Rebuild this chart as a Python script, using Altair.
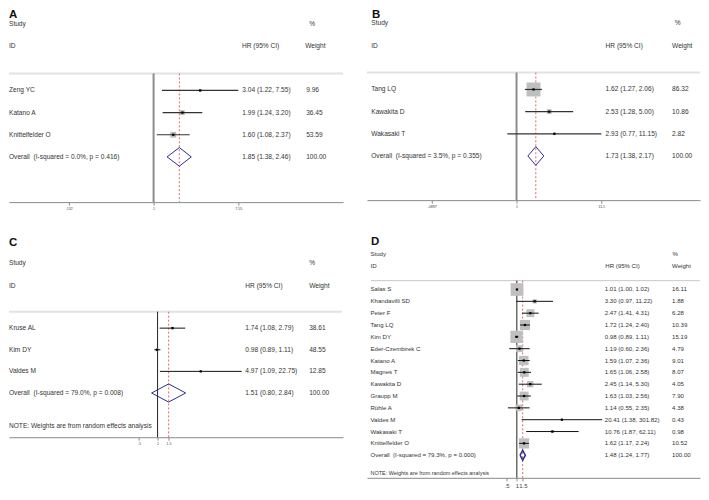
import math
import altair as alt
import pandas as pd

# ---------------- data ----------------
A_STUDY = ["Zeng YC", "Katano A", "Knittelfelder O"]
A_HR = [3.04, 1.99, 1.60]
A_LO = [1.22, 1.24, 1.08]
A_HI = [7.55, 3.20, 2.37]
A_WT = [9.96, 36.45, 53.59]
A_OVR = [1.85, 1.38, 2.46]
A_OVR_LABEL = "Overall\u00a0\u00a0(I-squared = 0.0%, p = 0.416)"
A_TICKS = [0.132, 1, 7.55]
A_TICK_LABELS = [".132", "1", "7.55"]

B_STUDY = ["Tang LQ", "Kawakita D", "Wakasaki T"]
B_HR = [1.62, 2.53, 2.93]
B_LO = [1.27, 1.28, 0.77]
B_HI = [2.06, 5.00, 11.15]
B_WT = [86.32, 10.86, 2.82]
B_OVR = [1.73, 1.38, 2.17]
B_OVR_LABEL = "Overall\u00a0\u00a0(I-squared = 3.5%, p = 0.355)"
B_TICKS = [0.0897, 1, 11.1]
B_TICK_LABELS = [".0897", "1", "11.1"]

C_STUDY = ["Kruse AL", "Kim DY", "Valdes M"]
C_HR = [1.74, 0.98, 4.97]
C_LO = [1.08, 0.89, 1.09]
C_HI = [2.79, 1.11, 22.75]
C_WT = [38.61, 48.55, 12.85]
C_OVR = [1.51, 0.80, 2.84]
C_OVR_LABEL = "Overall\u00a0\u00a0(I-squared = 79.0%, p = 0.008)"
C_TICKS = [0.5, 1, 1.5]
C_TICK_LABELS = [".5", "1", "1.5"]

D_STUDY = ["Salas S", "Khandavilli SD", "Peter F", "Tang LQ", "Kim DY",
           "Eder-Czembirek C", "Katano A", "Magnes T", "Kawakita D", "Graupp M",
           "Rühle A", "Valdes M", "Wakasaki T", "Knittelfelder O"]
D_HR = [1.01, 3.30, 2.47, 1.72, 0.98, 1.19, 1.59, 1.65, 2.45, 1.63, 1.14, 20.41, 10.76, 1.62]
D_LO = [1.00, 0.97, 1.41, 1.24, 0.89, 0.60, 1.07, 1.06, 1.14, 1.03, 0.55, 1.38, 1.87, 1.17]
D_HI = [1.02, 11.22, 4.31, 2.40, 1.11, 2.36, 2.36, 2.58, 5.30, 2.56, 2.35, 301.82, 62.11, 2.24]
D_WT = [16.11, 1.88, 6.28, 10.39, 15.19, 4.79, 9.01, 8.07, 4.05, 7.90, 4.38, 0.43, 0.98, 10.52]
D_OVR = [1.48, 1.24, 1.77]
D_OVR_LABEL = "Overall\u00a0\u00a0(I-squared = 79.3%, p = 0.000)"
D_TICKS = [0.5, 1, 1.5]
D_TICK_LABELS = [".5", "1", "1.5"]

NOTE = "NOTE: Weights are from random effects analysis"
TOTAL_WEIGHT = "100.00"

# ---------------- layout (reference pixels -> page pixels) ----------------
FONT = "Liberation Sans"
TXT = "#333333"
S2 = 0.9857  # slight vertical squeeze of the lower half so it fits the page
ROW1_SHIFT = 3.0


def PX(r):
    return r


def PY(r):
    return r + ROW1_SHIFT if r <= 215 else 215 + (r - 215) * S2


COL_LEFT = [8.0, 367.0]
ROW_TOP = [8.0, PY(236)]
COL_W = [343.0 - 8.0, 701.0 - 367.0]

LAYOUT = {
    "A": dict(col=0, row=0, letter_x=5, letter_top=None, axis_y=199, top_y=70, top_x=(0, 343),
              null_x=153, k=42, row1_y=87, rowN_y=153.6, study_y=20, id_y=42.3,
              name_x=4, est_x=242, wt_x=306, pct_x=309, weight_x=305, hr_x=241.7,
              fs=6.6, tick_fs=3.6, sq_k=0.65, null_color="#8c8c8c", null_w=2,
              top_color="#e2e2e2", top_w=2, ci_color="#333333", ci_w=1.2, dia_w=1, note_y=None),
    "B": dict(col=1, row=0, letter_x=372, letter_top=None, axis_y=197, top_y=69, top_x=(367, 720),
              null_x=517, k=35.3, row1_y=86, rowN_y=152.7, study_y=19.7, id_y=42,
              name_x=371.3, est_x=606.3, wt_x=673, pct_x=675.7, weight_x=673, hr_x=606.3,
              fs=6.6, tick_fs=3.6, sq_k=2.27, null_color="#8c8c8c", null_w=2,
              top_color="#e2e2e2", top_w=2, ci_color="#333333", ci_w=1.2, dia_w=1, note_y=None),
    "C": dict(col=0, row=1, letter_x=5, letter_top=239, axis_y=441, top_y=313.3, top_x=(0, 342),
              null_x=157, k=27, row1_y=330, rowN_y=396, study_y=264, id_y=286.7,
              name_x=4, est_x=245, wt_x=309, pct_x=309, weight_x=309, hr_x=245,
              fs=6.6, tick_fs=3.6, sq_k=0.18, null_color="#222222", null_w=1,
              top_color="#e2e2e2", top_w=2, ci_color="#111111", ci_w=1, dia_w=1,
              note_y=430, note_fs=6.6),
    "D": dict(col=1, row=1, letter_x=371, letter_top=237.5, axis_y=482.3, top_y=281.7, top_x=(371, 720),
              null_x=517.3, k=15, row1_y=290.7, rowN_y=459.3, study_y=255, id_y=266.7,
              name_x=370.5, est_x=605.5, wt_x=673, pct_x=673.3, weight_x=673, hr_x=606,
              fs=6.1, tick_fs=6, sq_k=10, null_color="#222222", null_w=1,
              top_color="#c8c8c8", top_w=1, ci_color="#111111", ci_w=1, dia_w=1.5,
              note_y=477.3, note_fs=5.5),
}


def panel(key, study, hr, lo, hi, wt, ovr, ovr_label, ticks, tick_labels):
    L = LAYOUT[key]
    left = COL_LEFT[L["col"]]
    top = ROW_TOP[L["row"]]
    w = COL_W[L["col"]]
    h = PY(L["axis_y"]) - top

    def lx(r):
        return min(w, max(0.0, PX(r) - left))

    def ly(r):
        return PY(r) - top

    kk = L["k"]
    n0 = PX(L["null_x"]) - left
    xs = alt.Scale(type="log", domain=[math.exp(-n0 / kk), math.exp((w - n0) / kk)], nice=False)
    n = len(study)
    ys = alt.Scale(domain=[1, n + 1], range=[ly(L["row1_y"]), ly(L["rowN_y"])], nice=False, zero=False)
    expr = "".join(f"abs(datum.value - {v}) < 1e-6 ? '{t}' : " for v, t in zip(ticks, tick_labels)) + "''"
    ax = alt.Axis(values=ticks, labelExpr=expr, title="", grid=False, domainColor="#8a8a8a",
                  domainWidth=1, tickColor="#8a8a8a", tickWidth=1, tickSize=3,
                  labelFontSize=L["tick_fs"], labelFont=FONT, labelColor="#444444",
                  labelPadding=1.5, labelOverlap=False, labelFlush=False)

    def X(f):
        return alt.X(f, type="quantitative", scale=xs, axis=ax)

    Y = alt.Y("row:Q", scale=ys, axis=None)

    rows = pd.DataFrame({"row": list(range(1, n + 1)), "study": study, "hr": hr,
                         "lo": lo, "hi": hi, "wt": wt})
    rows["est"] = [f"{a:.2f} ({b:.2f}, {c:.2f})" for a, b, c in zip(hr, lo, hi)]
    rows["wtxt"] = [f"{x:.2f}" for x in wt]
    ovr_df = pd.DataFrame({"row": [n + 1], "study": [ovr_label],
                           "est": [f"{ovr[0]:.2f} ({ovr[1]:.2f}, {ovr[2]:.2f})"],
                           "wtxt": [TOTAL_WEIGHT]})
    labels = pd.concat([rows[["row", "study", "est", "wtxt"]], ovr_df], ignore_index=True)
    dh = 0.42
    diamond = pd.DataFrame({"x": [ovr[1], ovr[0], ovr[2], ovr[0], ovr[1]],
                            "row": [n + 1, n + 1 - dh, n + 1, n + 1 + dh, n + 1],
                            "o": [0, 1, 2, 3, 4]})
    one = pd.DataFrame({"v": [0]})
    top_px = ly(L["top_y"])

    layers = []
    layers.append(alt.Chart(one).mark_rule(color=L["top_color"], strokeWidth=L["top_w"]).encode(
        x=alt.value(lx(L["top_x"][0])), x2=alt.value(lx(L["top_x"][1])), y=alt.value(top_px)))
    layers.append(alt.Chart(pd.DataFrame({"v": [1.0]})).mark_rule(
        color=L["null_color"], strokeWidth=L["null_w"]).encode(
        x=X("v"), y=alt.value(top_px), y2=alt.value(h)))
    layers.append(alt.Chart(pd.DataFrame({"v": [ovr[0]]})).mark_rule(
        color="#e06666", strokeWidth=1, strokeDash=[2, 2]).encode(
        x=X("v"), y=alt.value(top_px), y2=alt.value(h)))
    layers.append(alt.Chart(rows).mark_square(color="#bfbfbf", opacity=1).encode(
        x=X("hr"), y=Y,
        size=alt.Size("wt:Q", scale=alt.Scale(domain=[0, 100], range=[0, 100 * L["sq_k"]]), legend=None)))
    layers.append(alt.Chart(rows).mark_rule(color=L["ci_color"], strokeWidth=L["ci_w"]).encode(
        x=X("lo"), x2="hi", y=Y))
    layers.append(alt.Chart(rows).mark_square(color="black", size=5, opacity=1).encode(x=X("hr"), y=Y))
    layers.append(alt.Chart(diamond).mark_line(color="#2e2e8c", strokeWidth=L["dia_w"]).encode(
        x=X("x"), y=Y, order=alt.Order("o:Q")))

    def txt(col, xr):
        return alt.Chart(labels).mark_text(align="left", baseline="middle", font=FONT,
                                           fontSize=L["fs"], color=TXT).encode(
            x=alt.value(lx(xr)), y=Y, text=f"{col}:N")

    layers += [txt("study", L["name_x"]), txt("est", L["est_x"]), txt("wtxt", L["wt_x"])]

    headers = [("Study", L["name_x"], L["study_y"]), ("ID", L["name_x"], L["id_y"]),
               ("%", L["pct_x"], L["study_y"]), ("HR (95% CI)", L["hr_x"], L["id_y"]),
               ("Weight", L["weight_x"], L["id_y"])]
    for t, xr, yr in headers:
        layers.append(alt.Chart(one).mark_text(text=t, align="left", baseline="middle", font=FONT,
                                               fontSize=L["fs"], color=TXT).encode(
            x=alt.value(lx(xr)), y=alt.value(ly(yr))))
    # panel letter
    if L["letter_top"] is None:
        letter_y = 0.0
    else:
        letter_y = max(0.0, ly(L["letter_top"]) - 1.5)
    layers.append(alt.Chart(one).mark_text(text=key, align="left", baseline="top", font=FONT,
                                           fontSize=11.5, fontWeight="bold", color="#111111").encode(
        x=alt.value(lx(L["letter_x"])), y=alt.value(letter_y)))
    if L["note_y"] is not None:
        layers.append(alt.Chart(one).mark_text(text=NOTE, align="left", baseline="middle", font=FONT,
                                               fontSize=L["note_fs"], color=TXT).encode(
            x=alt.value(lx(L["name_x"])), y=alt.value(ly(L["note_y"]))))
    return alt.layer(*layers).properties(width=w, height=h)


pA = panel("A", A_STUDY, A_HR, A_LO, A_HI, A_WT, A_OVR, A_OVR_LABEL, A_TICKS, A_TICK_LABELS)
pB = panel("B", B_STUDY, B_HR, B_LO, B_HI, B_WT, B_OVR, B_OVR_LABEL, B_TICKS, B_TICK_LABELS)
pC = panel("C", C_STUDY, C_HR, C_LO, C_HI, C_WT, C_OVR, C_OVR_LABEL, C_TICKS, C_TICK_LABELS)
pD = panel("D", D_STUDY, D_HR, D_LO, D_HI, D_WT, D_OVR, D_OVR_LABEL, D_TICKS, D_TICK_LABELS)

row1_h = max(PY(LAYOUT["A"]["axis_y"]), PY(LAYOUT["B"]["axis_y"])) - ROW_TOP[0]
ROW_SPACING = ROW_TOP[1] - (ROW_TOP[0] + row1_h)
COL_SPACING = COL_LEFT[1] - (COL_LEFT[0] + COL_W[0])

chart = alt.concat(pA, pB, pC, pD, columns=2,
                   spacing={"row": ROW_SPACING, "column": COL_SPACING}).properties(
    bounds="flush", align="each", padding=0, background="white"
).resolve_scale(size="independent").resolve_legend(size="independent").configure_view(strokeWidth=0)

chart.save("out.html", embed_options={"renderer": "svg", "actions": False})
